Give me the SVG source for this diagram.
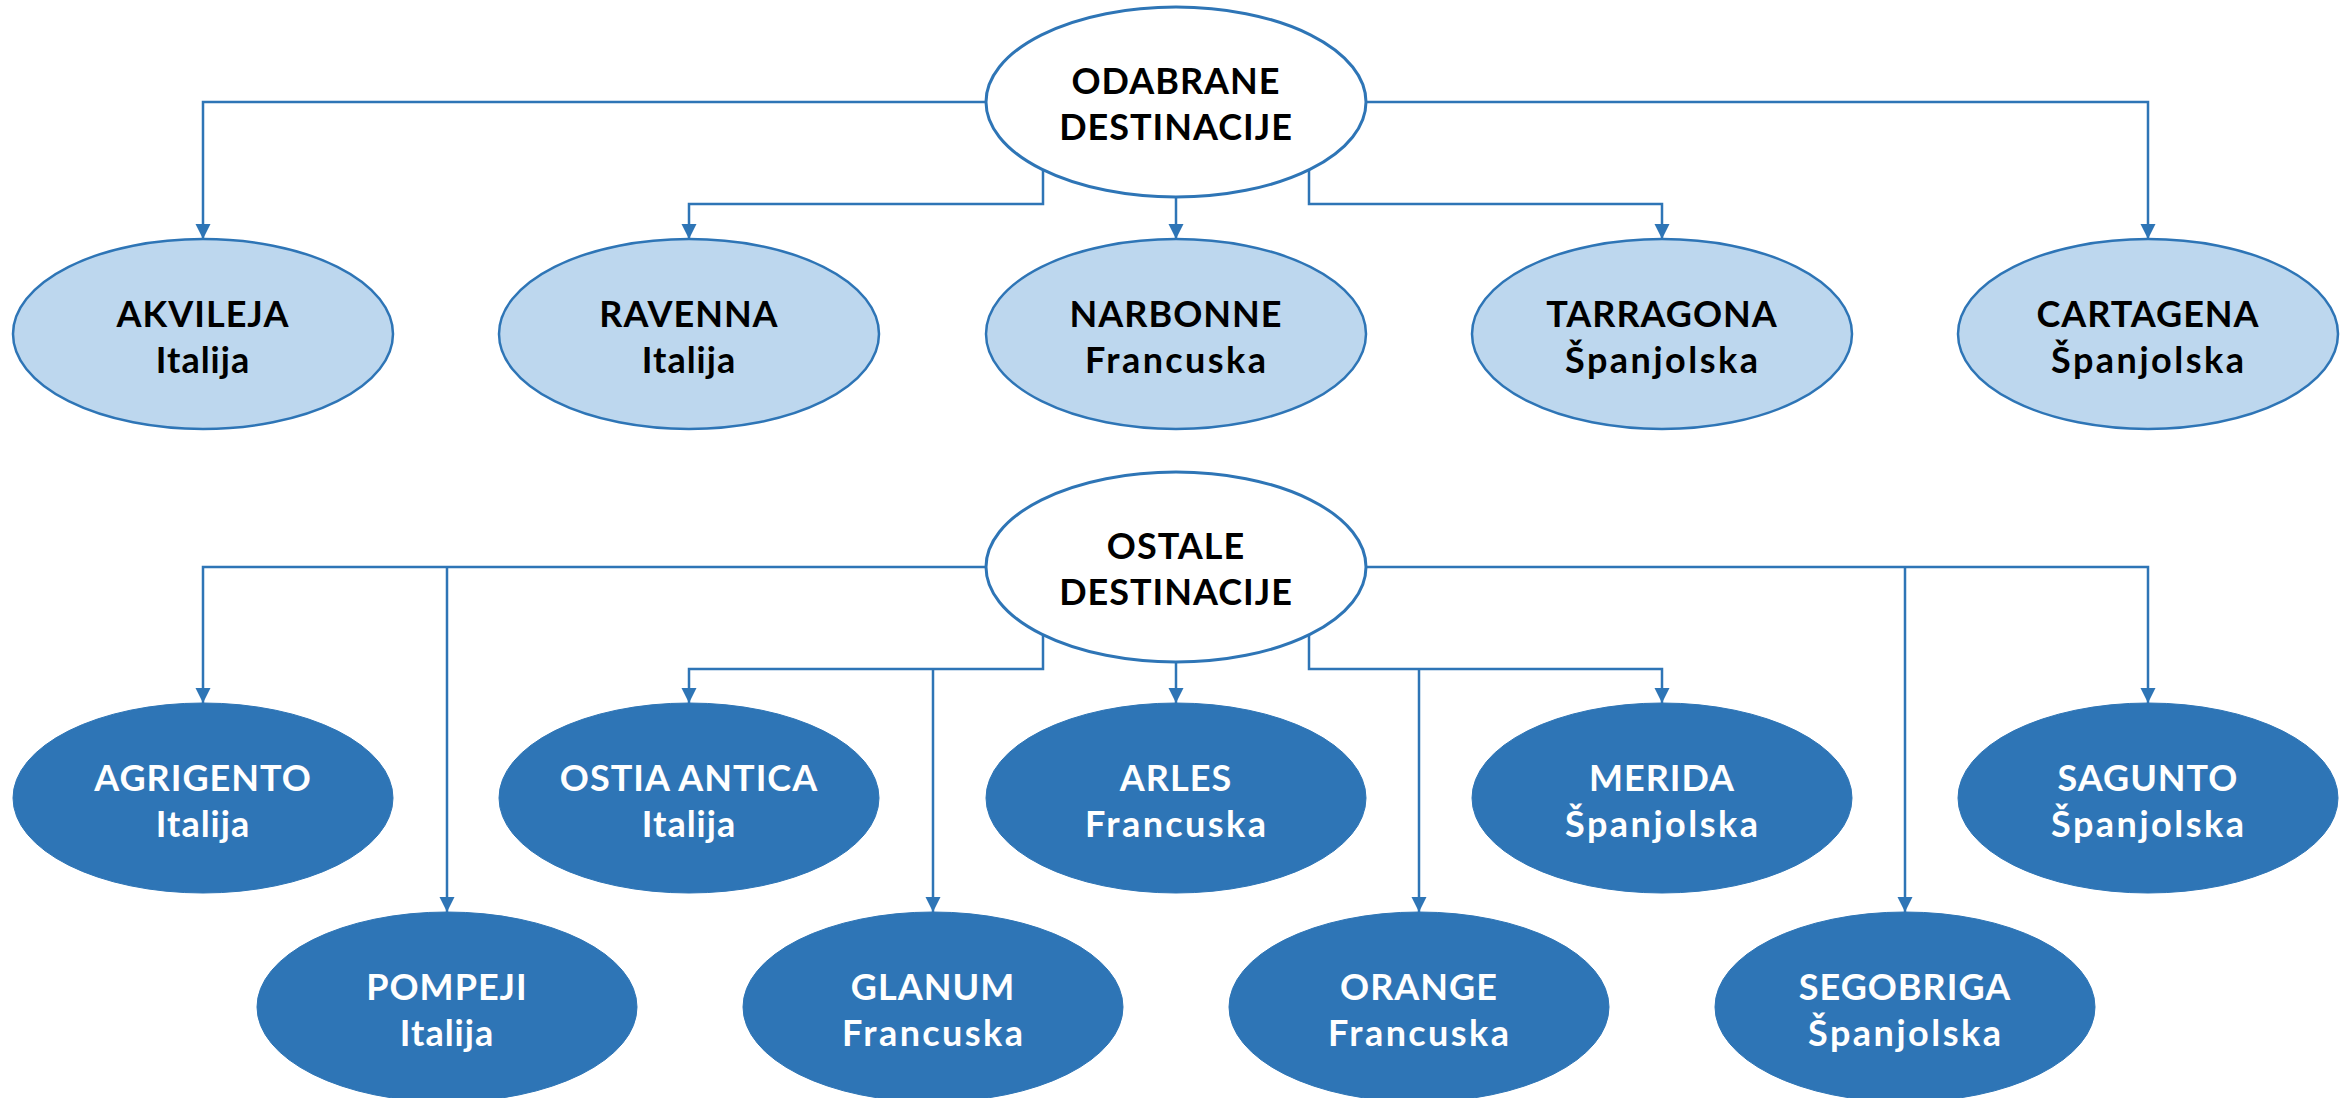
<svg xmlns="http://www.w3.org/2000/svg" width="2351" height="1098" viewBox="0 0 2351 1098">
<style>
.conn{fill:none;stroke:#2E75B6;stroke-width:2.5;marker-end:url(#arr)}
.root{fill:#FFFFFF;stroke:#2E75B6;stroke-width:3}
.light{fill:#BDD7EE;stroke:#2E75B6;stroke-width:2.5}
.dark{fill:#2E75B6;stroke:#2E75B6;stroke-width:1}
text{font-family:Lato,"Open Sans","Liberation Sans",sans-serif;font-weight:bold;font-size:36px;text-anchor:middle;letter-spacing:1px}
.tb{fill:#000000}
.tw{fill:#FFFFFF}
</style>
<defs>
<marker id="arr" markerUnits="userSpaceOnUse" markerWidth="16" markerHeight="16" refX="15" refY="7.5" orient="auto">
<path d="M0,0 L15,7.5 L0,15 z" fill="#2E75B6"/>
</marker>
</defs>
<rect width="2351" height="1098" fill="#FFFFFF"/>
<g id="connectors">
<path class="conn" d="M986,102 H203 V239"/>
<path class="conn" d="M1366,102 H2148 V239"/>
<path class="conn" d="M1043,170 V204 H689 V239"/>
<path class="conn" d="M1309,170 V204 H1662 V239"/>
<path class="conn" d="M1176,197 V239"/>
<path class="conn" d="M986,567 H203 V703"/>
<path class="conn" d="M447,567 V912"/>
<path class="conn" d="M1366,567 H2148 V703"/>
<path class="conn" d="M1905,567 V912"/>
<path class="conn" d="M1043,635 V669 H689 V703"/>
<path class="conn" d="M933,669 V912"/>
<path class="conn" d="M1309,635 V669 H1662 V703"/>
<path class="conn" d="M1419,669 V912"/>
<path class="conn" d="M1176,662 V703"/>
</g>
<g id="odabrane">
<ellipse class="root" cx="1176" cy="102" rx="190" ry="95"/>
<text class="tb" x="1176" y="94">ODABRANE</text>
<text class="tb" x="1176" y="140">DESTINACIJE</text>
</g>
<g id="akvileja">
<ellipse class="light" cx="203" cy="334" rx="190" ry="95"/>
<text class="tb" x="203" y="327">AKVILEJA</text>
<text class="tb" x="203" y="373">Italija</text>
</g>
<g id="ravenna">
<ellipse class="light" cx="689" cy="334" rx="190" ry="95"/>
<text class="tb" x="689" y="327">RAVENNA</text>
<text class="tb" x="689" y="373">Italija</text>
</g>
<g id="narbonne">
<ellipse class="light" cx="1176" cy="334" rx="190" ry="95"/>
<text class="tb" x="1176" y="327">NARBONNE</text>
<text class="tb" x="1176" y="373" textLength="182">Francuska</text>
</g>
<g id="tarragona">
<ellipse class="light" cx="1662" cy="334" rx="190" ry="95"/>
<text class="tb" x="1662" y="327">TARRAGONA</text>
<text class="tb" x="1662" y="373" textLength="194">Španjolska</text>
</g>
<g id="cartagena">
<ellipse class="light" cx="2148" cy="334" rx="190" ry="95"/>
<text class="tb" x="2148" y="327">CARTAGENA</text>
<text class="tb" x="2148" y="373" textLength="194">Španjolska</text>
</g>
<g id="ostale">
<ellipse class="root" cx="1176" cy="567" rx="190" ry="95"/>
<text class="tb" x="1176" y="559">OSTALE</text>
<text class="tb" x="1176" y="605">DESTINACIJE</text>
</g>
<g id="agrigento">
<ellipse class="dark" cx="203" cy="798" rx="190" ry="95"/>
<text class="tw" x="203" y="791">AGRIGENTO</text>
<text class="tw" x="203" y="837">Italija</text>
</g>
<g id="ostia">
<ellipse class="dark" cx="689" cy="798" rx="190" ry="95"/>
<text class="tw" x="689" y="791">OSTIA ANTICA</text>
<text class="tw" x="689" y="837">Italija</text>
</g>
<g id="arles">
<ellipse class="dark" cx="1176" cy="798" rx="190" ry="95"/>
<text class="tw" x="1176" y="791">ARLES</text>
<text class="tw" x="1176" y="837" textLength="182">Francuska</text>
</g>
<g id="merida">
<ellipse class="dark" cx="1662" cy="798" rx="190" ry="95"/>
<text class="tw" x="1662" y="791">MERIDA</text>
<text class="tw" x="1662" y="837" textLength="194">Španjolska</text>
</g>
<g id="sagunto">
<ellipse class="dark" cx="2148" cy="798" rx="190" ry="95"/>
<text class="tw" x="2148" y="791">SAGUNTO</text>
<text class="tw" x="2148" y="837" textLength="194">Španjolska</text>
</g>
<g id="pompeji">
<ellipse class="dark" cx="447" cy="1007" rx="190" ry="95"/>
<text class="tw" x="447" y="1000">POMPEJI</text>
<text class="tw" x="447" y="1046">Italija</text>
</g>
<g id="glanum">
<ellipse class="dark" cx="933" cy="1007" rx="190" ry="95"/>
<text class="tw" x="933" y="1000">GLANUM</text>
<text class="tw" x="933" y="1046" textLength="182">Francuska</text>
</g>
<g id="orange">
<ellipse class="dark" cx="1419" cy="1007" rx="190" ry="95"/>
<text class="tw" x="1419" y="1000">ORANGE</text>
<text class="tw" x="1419" y="1046" textLength="182">Francuska</text>
</g>
<g id="segobriga">
<ellipse class="dark" cx="1905" cy="1007" rx="190" ry="95"/>
<text class="tw" x="1905" y="1000">SEGOBRIGA</text>
<text class="tw" x="1905" y="1046" textLength="194">Španjolska</text>
</g>
</svg>
